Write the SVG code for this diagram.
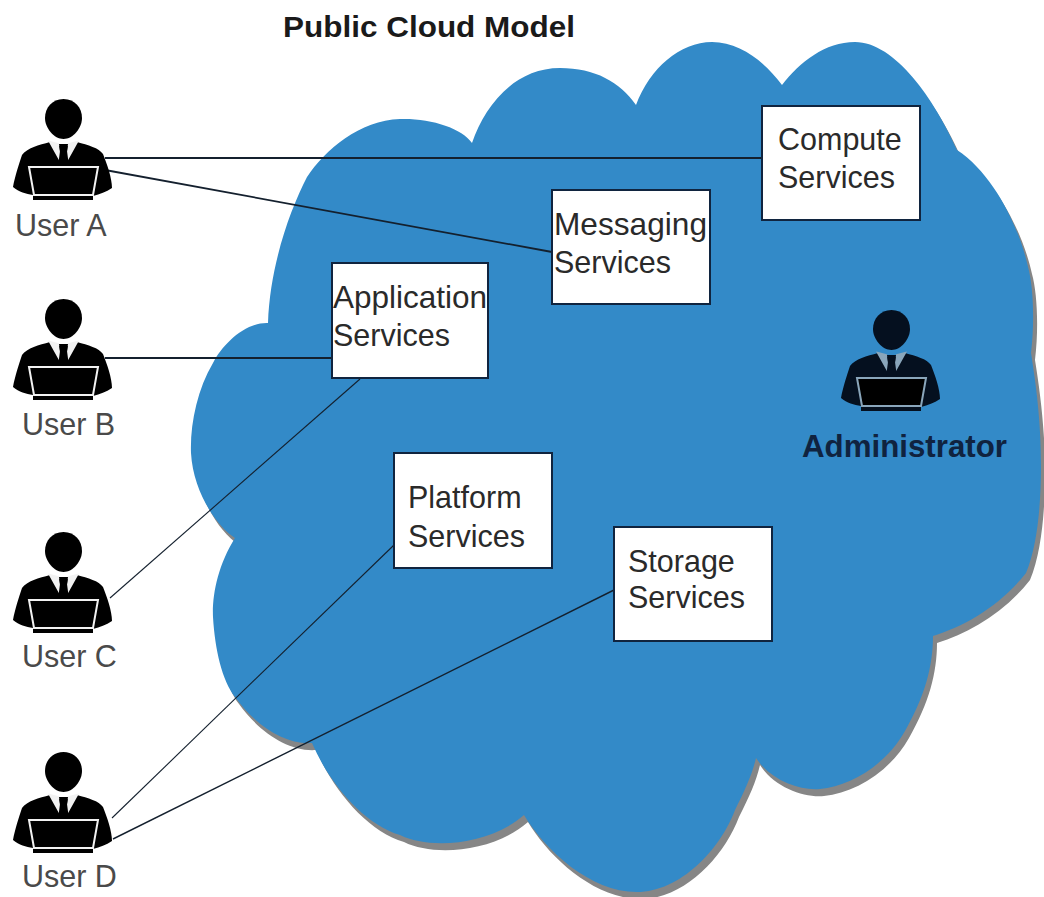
<svg xmlns="http://www.w3.org/2000/svg" width="1044" height="897" viewBox="0 0 1044 897">
<style>
text{font-family:"Liberation Sans",Arial,sans-serif;fill:#2a2a2a;font-size:30.5px}
.u{fill:#4a4a4a}
.b{font-weight:bold;fill:#1a1a1a}
.box{fill:#fff;stroke:#10243f;stroke-width:2}
.c{stroke:#14202e;stroke-width:1.8;fill:none}
.t{stroke-width:1.1}
</style>
<defs>
<path id="cloud" d="M472 143C462 128 430 118 400 119C360 120 325 150 307 177C290 210 270 265 268 323C245 322 222 345 213 363C197 390 190 425 191 453C193 490 215 525 235 538C218 565 212 595 213 617C215 650 222 680 235 697C255 725 285 745 312 743C330 785 365 825 400 835C430 850 490 845 524 815C545 850 590 892 637 892C680 892 720 850 735 810C745 790 752 775 756 758C770 780 800 791 820 789C850 786 885 766 905 731C925 696 933 666 933 636C965 626 1000 606 1026 573C1038 545 1041 500 1041 467C1041 420 1036 385 1031 353C1035 320 1033 285 1028 267C1020 230 995 175 957 150C935 100 895 42 855 42C825 42 800 62 782 85C765 62 740 42 712 42C680 42 650 68 636 105C620 82 595 68 560 68C515 68 485 105 472 143Z"/>
<g id="person">
<path d="M63.5 99C75 99 82 108 82 118C82 128 73 139 63.5 139C54 139 45 128 45 118C45 108 52 99 63.5 99Z"/>
<path d="M50 142 58 146H69L77 142C88 145 99 148 103 154C107 164 112 178 112 188C106 192 100 194 93 196V200H33V195C26 194 19 192 13 187C15 176 19 164 22 155C27 148 39 145 50 142Z"/>
<path d="M50 142 58 144 60 160ZM77 142 69 144 67 160Z" fill="currentColor" stroke="currentColor" stroke-width="2"/>
<path d="M59 144H68L67 151 69 166H58L60 151Z"/>
<path d="M29 167H98L93 195H34Z" fill="#000" stroke="currentColor" stroke-width="2"/>
</g>
</defs>
<text class="b" x="283" y="37" style="font-size:30px" textLength="292" lengthAdjust="spacingAndGlyphs">Public Cloud Model</text>
<g id="cloud-shape">
<use href="#cloud" fill="#868686" transform="translate(4 7)"/>
<use href="#cloud" fill="#338ac8"/>
</g>
<g id="connectors">
<path class="c" d="M105 158H762"/>
<path class="c" d="M105 170L552 252"/>
<path class="c" d="M105 358H332"/>
<path class="c t" d="M110 598L360 379"/>
<path class="c t" d="M112 818L394 545"/>
<path class="c" style="stroke-width:1.4" d="M113 839L614 590"/>
</g>
<g id="compute"><rect class="box" x="762" y="106" width="158" height="114"/><text x="778" y="150">Compute</text><text x="778" y="188">Services</text></g>
<g id="messaging"><rect class="box" x="552" y="190" width="158" height="114"/><text x="554" y="235" textLength="153" lengthAdjust="spacingAndGlyphs">Messaging</text><text x="554" y="273">Services</text></g>
<g id="application"><rect class="box" x="332" y="263" width="156" height="115"/><text x="333" y="308" textLength="154" lengthAdjust="spacingAndGlyphs">Application</text><text x="333" y="346">Services</text></g>
<g id="platform"><rect class="box" x="394" y="453" width="158" height="115"/><text x="408" y="508">Platform</text><text x="408" y="547">Services</text></g>
<g id="storage"><rect class="box" x="614" y="527" width="158" height="114"/><text x="628" y="572">Storage</text><text x="628" y="608">Services</text></g>
<g id="user-a" color="#f2f2f2"><use href="#person"/><text class="u" x="15" y="236">User A</text></g>
<g id="user-b" color="#f2f2f2"><use href="#person" y="200"/><text class="u" x="22" y="435">User B</text></g>
<g id="user-c" color="#f2f2f2"><use href="#person" y="433"/><text class="u" x="22" y="667">User C</text></g>
<g id="user-d" color="#f2f2f2"><use href="#person" y="653"/><text class="u" x="22" y="887">User D</text></g>
<g id="administrator" color="#8aa6bb"><use href="#person" x="828" y="211" fill="#05101f"/><text class="b" x="802" y="457" style="fill:#10233f;font-size:30.5px" textLength="205" lengthAdjust="spacingAndGlyphs">Administrator</text></g>
</svg>
